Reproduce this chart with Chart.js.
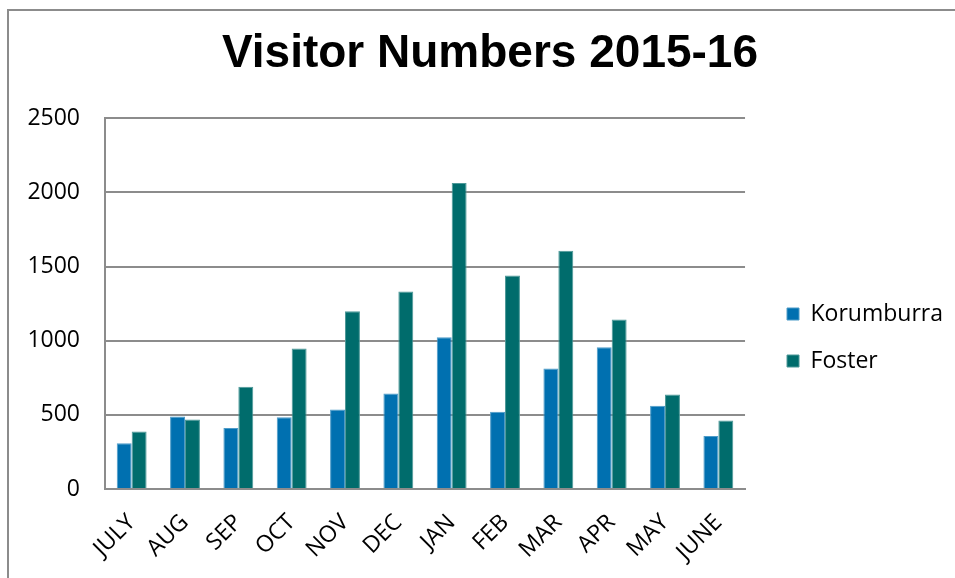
<!DOCTYPE html>
<html>
<head>
<meta charset="utf-8">
<script src="https://cdn.jsdelivr.net/npm/chart.js@4.4.0/dist/chart.umd.min.js"></script>
<style>
  html, body { margin: 0; padding: 0; background: #ffffff; }
  #wrap { position: relative; width: 955px; height: 578px; overflow: hidden; }
  #frame { position: absolute; left: 7px; top: 9px; width: 960px; height: 600px;
           border-left: 2px solid #8c8c8c; border-top: 2px solid #8c8c8c; box-sizing: border-box; }
  canvas { position: absolute; left: 0; top: 0; }
</style>
</head>
<body>
<div id="wrap">
  <div id="frame"></div>
  <canvas id="c" width="955" height="578"></canvas>
</div>
<script>
const months = ["JULY", "AUG", "SEP", "OCT", "NOV", "DEC", "JAN", "FEB", "MAR", "APR", "MAY", "JUNE"];
const korumburra = [308, 489, 412, 484, 536, 644, 1023, 520, 813, 955, 561, 358];
const foster = [387, 468, 689, 948, 1198, 1331, 2063, 1439, 1606, 1142, 637, 462];
const yTicks = [0, 500, 1000, 1500, 2000, 2500];

const font = "'Open Sans', 'Noto Sans', sans-serif";

// empty layout box that keeps a gap between the plot area and the legend
const legendGap = {
  id: 'legendGap',
  start(chart) {
    Chart.layouts.addBox(chart, {
      position: 'right', weight: 0, fullSize: false, options: { display: false },
      width: 0, height: 0, left: 0, right: 0, top: 0, bottom: 0,
      isHorizontal() { return false; },
      update(maxWidth, maxHeight) { this.width = 18; this.height = maxHeight; },
      draw() {}
    });
  }
};

new Chart(document.getElementById('c'), {
  type: 'bar',
  data: {
    labels: months,
    datasets: [
      { label: 'Korumburra', data: korumburra, backgroundColor: '#0070b0',
        borderColor: '#4d9bc8', borderWidth: 1, categoryPercentage: 0.56, barPercentage: 1.0 },
      { label: 'Foster', data: foster, backgroundColor: '#006c6c',
        borderColor: '#4d9898', borderWidth: 1, categoryPercentage: 0.56, barPercentage: 1.0 }
    ]
  },
  plugins: [legendGap],
  options: {
    responsive: false,
    animation: false,
    layout: { padding: { left: 27, right: 2, top: 0, bottom: 0 } },
    plugins: {
      title: {
        display: true,
        text: 'Visitor Numbers 2015-16',
        color: '#000000',
        font: { family: "'Liberation Sans', Arial, sans-serif", size: 46, weight: 'bold', lineHeight: 1.2 },
        padding: { top: 27, bottom: 36 }
      },
      legend: {
        position: 'right',
        maxWidth: 220,
        title: { display: true, text: '', padding: { top: 96, bottom: 0 }, font: { size: 1, lineHeight: 1 } },
        labels: {
          color: '#000000',
          font: { family: font, size: 23 },
          boxWidth: 12, boxHeight: 12,
          padding: 24
        }
      },
      tooltip: { enabled: false }
    },
    scales: {
      x: {
        grid: { display: false, drawTicks: false },
        border: { display: true, color: '#8c8c8c', width: 2 },
        ticks: { color: '#000000', font: { family: font, size: 23 }, maxRotation: 45, minRotation: 45, padding: 20 },
        afterFit: (s) => { s.height = 89; }
      },
      y: {
        min: 0, max: 2500,
        afterBuildTicks: (s) => { s.ticks = yTicks.map(v => ({ value: v })); },
        grid: { color: '#8c8c8c', lineWidth: 2, drawTicks: false },
        border: { display: true, color: '#8c8c8c', width: 2 },
        ticks: { color: '#000000', font: { family: font, size: 23 }, padding: 25, callback: (v) => String(v) },
        afterFit: (s) => { s.width = 78; }
      }
    }
  }
});
</script>
</body>
</html>
